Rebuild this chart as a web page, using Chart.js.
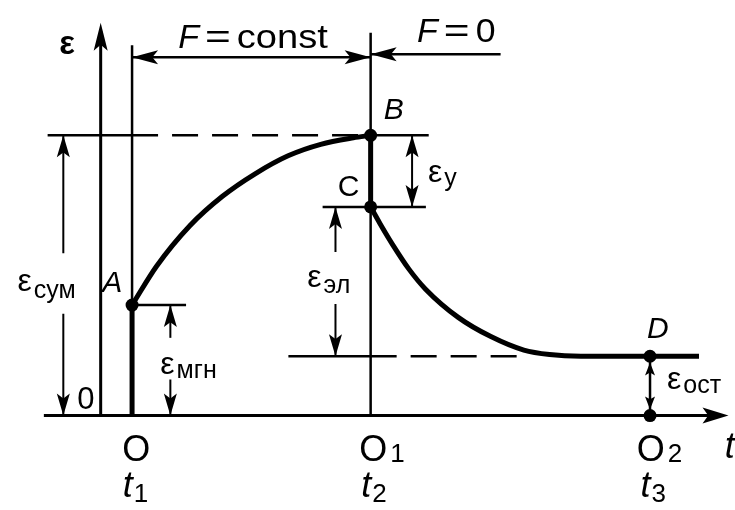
<!DOCTYPE html>
<html>
<head>
<meta charset="utf-8">
<script src="https://cdn.jsdelivr.net/npm/chart.js@4/dist/chart.umd.min.js"></script>
<style>
html,body{margin:0;padding:0;background:#fff;}
canvas{display:block;}
</style>
</head>
<body>
<canvas id="c" width="735" height="510"></canvas>
<script>
// ---- data (time t in arbitrary units, strain ε in arbitrary units) ----
const keyTimes = [1, 8.6, 17.5];            // t1 (load on), t2 (load off), t3
const originLabels = ['O', 'O', 'O'];
const originSubs = ['', '1', '2'];
const timeSubs = ['1', '2', '3'];
const pointNames = ['A', 'B', 'C', 'D'];
const pointT = [1, 8.6, 8.6, 17.5];
const pointEps = [27, 68.5, 51, 14.5];      // ε_мгн, ε_сум, after elastic return, ε_ост
const creepT = [1, 1.78, 2.84, 3.88, 4.92, 5.97, 7.01, 8.05, 8.6];
const creepEps = [27, 36.5, 46.4, 53.6, 59.1, 63.5, 66.3, 67.9, 68.5];
const recoveryT = [8.6, 8.9, 9.3, 9.82, 10.35, 11.39, 12.43, 13.48, 14.3, 15.3, 19.06];
const recoveryEps = [51, 46.9, 41.8, 35.8, 30.9, 24.0, 19.3, 16.0, 14.9, 14.5, 14.5];

const [t1, t2, t3] = keyTimes;
const [epsA, epsB, epsC, epsD] = pointEps;

const FONT = '"Liberation Sans", Arial, Helvetica, sans-serif';
const seg = (x0, y0, x1, y1) => [{x: x0, y: y0}, {x: x1, y: y1}];
const line = (data, w, extra) => Object.assign({
  type: 'scatter', data, showLine: true, borderColor: '#000', borderWidth: w,
  pointRadius: 0, fill: false, clip: false, borderCapStyle: 'butt'
}, extra || {});

const datasets = [
  line(seg(-1.81, 0, 19.7, 0), 3),                 // t axis
  line(seg(0, 0, 0, 94), 3),                       // ε axis
  line(seg(t1, 0, t1, 90.5), 2.5),                 // t1 vertical
  line(seg(t1, 0, t1, epsA), 5),                   // instantaneous strain O-A
  line(seg(t2, 0, t2, 93.6), 2.5),                 // t2 vertical
  line(seg(t2, epsC, t2, epsB), 5),                // elastic return B-C
  line(creepT.map((t, i) => ({x: t, y: creepEps[i]})), 5, {cubicInterpolationMode: 'monotone'}),
  line(recoveryT.map((t, i) => ({x: t, y: recoveryEps[i]})), 5, {cubicInterpolationMode: 'monotone'}),
  line(seg(-1.69, epsB, t1, epsB), 2.5),
  line(seg(t1, epsB, t2, epsB), 2.5, {borderDash: [26, 14]}),
  line(seg(t2, epsB, 10.45, epsB), 2.5),
  line(seg(7.07, epsC, 10.36, epsC), 2.5),
  line(seg(5.98, epsD, t2, epsD), 2.5),
  line(seg(t2, epsD, 13.5, epsD), 2.5, {borderDash: [26, 14]}),
  line(seg(t1, epsA, 2.72, epsA), 2.5),
  line(seg(t1, 87.6, t2, 87.6), 2.5),              // F = const span
  line(seg(t2, 88.3, 12.74, 88.3), 2.5),           // F = 0 span
  line(seg(-1.19, epsB, -1.19, 39.7), 2),          // ε_сум
  line(seg(-1.19, 24.9, -1.19, 0), 2),
  line(seg(2.22, 19, 2.22, epsA), 2),              // ε_мгн
  line(seg(2.22, 8.8, 2.22, 0), 2),
  line(seg(7.48, epsC, 7.48, 40), 2),              // ε_эл
  line(seg(7.48, 27.3, 7.48, epsD), 2),
  line(seg(9.92, epsC, 9.92, epsB), 2),            // ε_у
  line(seg(t3, 0, t3, epsD), 2.5),                 // ε_ост
  {
    type: 'scatter',
    data: pointT.map((t, i) => ({x: t, y: pointEps[i]})).concat([{x: t3, y: 0}]),
    pointRadius: 6.5, pointBackgroundColor: '#000', pointBorderColor: '#000',
    pointBorderWidth: 0, showLine: false, clip: false
  }
];

const arrows = [
  {t: 0, e: 96, dir: 'up', len: 28, hw: 7},
  {t: 20, e: 0, dir: 'right', len: 26, hw: 8},
  {t: t1, e: 87.6, dir: 'left', len: 26, hw: 7},
  {t: t2, e: 87.6, dir: 'right', len: 26, hw: 7},
  {t: t2, e: 88.3, dir: 'left', len: 26, hw: 7},
  {t: -1.19, e: epsB, dir: 'up'}, {t: -1.19, e: 0, dir: 'down'},
  {t: 2.22, e: epsA, dir: 'up'}, {t: 2.22, e: 0, dir: 'down'},
  {t: 7.48, e: epsC, dir: 'up'}, {t: 7.48, e: epsD, dir: 'down'},
  {t: 9.92, e: epsB, dir: 'up'}, {t: 9.92, e: epsC, dir: 'down'},
  {t: t3, e: epsD - 1.5, dir: 'up', len: 13, hw: 5}, {t: t3, e: 1.5, dir: 'down', len: 13, hw: 5}
];

function head(ctx, x, y, dir, len, hw) {
  const ang = {right: 0, left: Math.PI, up: -Math.PI / 2, down: Math.PI / 2}[dir];
  ctx.save();
  ctx.translate(x, y);
  ctx.rotate(ang);
  ctx.beginPath();
  ctx.moveTo(0, 0);
  ctx.lineTo(-len, -hw);
  ctx.lineTo(-len * 0.78, 0);
  ctx.lineTo(-len, hw);
  ctx.closePath();
  ctx.fill();
  ctx.restore();
}

// main text + subscript, left anchored at a data position (baseline)
function sub(ctx, x, y, main, s, mainFont, subFont, dy, gap) {
  ctx.font = mainFont;
  ctx.fillText(main, x, y);
  const w = ctx.measureText(main).width;
  ctx.font = subFont;
  ctx.fillText(s, x + w + (gap || 1), y + dy);
}

const diagram = {
  id: 'diagram',
  afterDatasetsDraw(chart) {
    const ctx = chart.ctx, xs = chart.scales.x, ys = chart.scales.y;
    const X = t => xs.getPixelForValue(t), Y = e => ys.getPixelForValue(e);
    ctx.save();
    ctx.fillStyle = '#000';
    arrows.forEach(a => head(ctx, X(a.t), Y(a.e), a.dir, a.len || 22, a.hw || 6.5));

    ctx.textAlign = 'left';
    ctx.textBaseline = 'alphabetic';
    // axis label ε
    ctx.font = 'bold 33px ' + FONT;
    ctx.fillText('ε', X(-1.32), Y(88.5));
    // F = const / F = 0
    const fLabel = (t, e, rest, sx) => {
      let x = X(t);
      ctx.font = 'italic 34px ' + FONT;
      ctx.fillText('F', x, Y(e));
      x += ctx.measureText('F').width + 6;
      ctx.font = '34px ' + FONT;
      ctx.save(); ctx.translate(x, Y(e)); ctx.scale(1.3, 1); ctx.fillText('=', 0, 0); ctx.restore();
      x += ctx.measureText('=').width * 1.3 + 6;
      ctx.save(); ctx.translate(x, Y(e)); ctx.scale(sx, 1); ctx.fillText(rest, 0, 0); ctx.restore();
    };
    fLabel(2.47, 89.8, 'const', 1.12);
    fLabel(10.08, 91.2, '0', 1.05);

    // point names
    ctx.font = 'italic 30px ' + FONT;
    ctx.fillText(pointNames[0], X(0.05), Y(30.2));
    ctx.fillText(pointNames[1], X(9.02), Y(72.6));
    ctx.font = '30px ' + FONT;
    ctx.fillText(pointNames[2], X(7.55), Y(53.6));
    ctx.font = 'italic 30px ' + FONT;
    ctx.fillText(pointNames[3], X(17.4), Y(19.0));

    // "0" on ε axis
    ctx.font = '31px ' + FONT;
    ctx.fillText('0', X(-0.75), Y(1.6));

    // origins and times
    keyTimes.forEach((t, i) => {
      const dx = [0.31, 0.36, 0.42][i];
      sub(ctx, X(t - dx), Y(-11.0), originLabels[i], originSubs[i], '36px ' + FONT, '26px ' + FONT, 1, 3);
      sub(ctx, X(t - [0.3, 0.3, 0.3][i]), Y(-19.8), 't', timeSubs[i], 'italic 36px ' + FONT, '26px ' + FONT, 5, 1);
    });
    ctx.font = 'italic 36px ' + FONT;
    ctx.fillText('t', X(19.88), Y(-10.3));

    // strain component labels
    const mf = '32px ' + FONT, sf = '25px ' + FONT;
    sub(ctx, X(-2.65), Y(30.4), 'ε', 'сум', mf, sf, 7, 2);
    sub(ctx, X(1.9), Y(10.2), 'ε', 'мгн', mf, sf, 4, 2);
    sub(ctx, X(6.58), Y(31.4), 'ε', 'эл', mf, sf, 6, 2);
    sub(ctx, X(10.43), Y(57.1), 'ε', 'у', mf, sf, 4, 2);
    sub(ctx, X(18.04), Y(6.4), 'ε', 'ост', mf, sf, 4, 2);
    ctx.restore();
  }
};

new Chart(document.getElementById('c'), {
  type: 'scatter',
  data: {datasets},
  options: {
    responsive: false,
    animation: false,
    devicePixelRatio: 1,
    layout: {padding: 0},
    plugins: {legend: {display: false}, tooltip: {enabled: false}},
    scales: {
      x: {type: 'linear', min: -3, max: 20, display: false},
      y: {type: 'linear', min: -21.5, max: 100, display: false}
    }
  },
  plugins: [diagram]
});
</script>
</body>
</html>
